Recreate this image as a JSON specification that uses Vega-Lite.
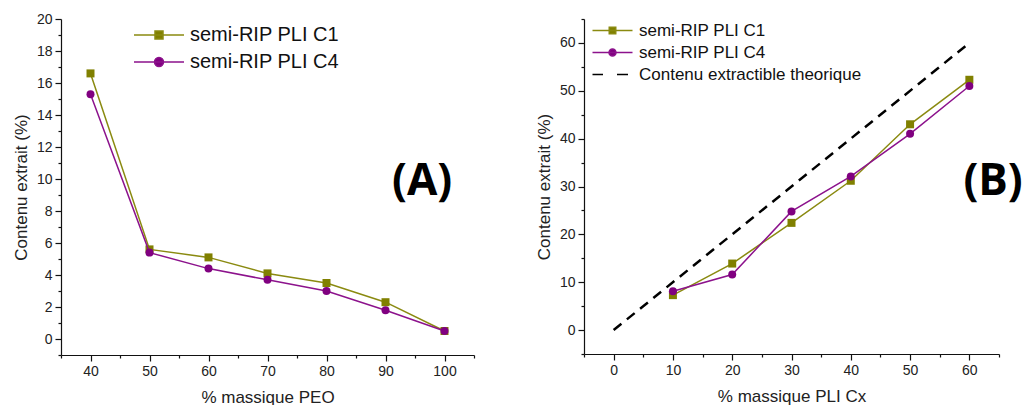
{
  "$schema": "https://vega.github.io/schema/vega-lite/v6.json",
  "padding": {"left": 12, "top": 12, "right": 0, "bottom": 0},
  "bounds": "flush",
  "spacing": 110,
  "resolve": {"scale": {"fill": "independent", "stroke": "independent", "shape": "independent"}, "legend": {"fill": "independent", "stroke": "independent", "shape": "independent"}},
  "config": {
    "view": {"stroke": null},
    "axis": {
      "grid": false,
      "domainColor": "#111",
      "tickColor": "#111",
      "domainWidth": 1.2,
      "tickWidth": 1.2,
      "labelColor": "#222",
      "titleColor": "#222",
      "labelFont": "Liberation Sans",
      "titleFont": "Liberation Sans",
      "titleFontWeight": "normal",
      "labelFontSize": 14,
      "titleFontSize": 17,
      "labelOverlap": false,
      "labelFlush": false,
      "labelPadding": 3
    },
    "axisX": {"titlePadding": 11},
    "axisY": {"titlePadding": 6}
  },
  "datasets": {
    "peo": [
      {"x": 40, "y": 16.6, "series": "semi-RIP PLI C1"},
      {"x": 50, "y": 5.6, "series": "semi-RIP PLI C1"},
      {"x": 60, "y": 5.1, "series": "semi-RIP PLI C1"},
      {"x": 70, "y": 4.1, "series": "semi-RIP PLI C1"},
      {"x": 80, "y": 3.5, "series": "semi-RIP PLI C1"},
      {"x": 90, "y": 2.3, "series": "semi-RIP PLI C1"},
      {"x": 100, "y": 0.5, "series": "semi-RIP PLI C1"},
      {"x": 40, "y": 15.3, "series": "semi-RIP PLI C4"},
      {"x": 50, "y": 5.4, "series": "semi-RIP PLI C4"},
      {"x": 60, "y": 4.4, "series": "semi-RIP PLI C4"},
      {"x": 70, "y": 3.7, "series": "semi-RIP PLI C4"},
      {"x": 80, "y": 3.0, "series": "semi-RIP PLI C4"},
      {"x": 90, "y": 1.8, "series": "semi-RIP PLI C4"},
      {"x": 100, "y": 0.5, "series": "semi-RIP PLI C4"}
    ],
    "pli": [
      {"x": 0, "y": 0, "series": "Contenu extractible theorique"},
      {"x": 60, "y": 60, "series": "Contenu extractible theorique"},
      {"x": 10, "y": 7.3, "series": "semi-RIP PLI C1"},
      {"x": 20, "y": 13.9, "series": "semi-RIP PLI C1"},
      {"x": 30, "y": 22.4, "series": "semi-RIP PLI C1"},
      {"x": 40, "y": 31.2, "series": "semi-RIP PLI C1"},
      {"x": 50, "y": 43.0, "series": "semi-RIP PLI C1"},
      {"x": 60, "y": 52.3, "series": "semi-RIP PLI C1"},
      {"x": 10, "y": 8.1, "series": "semi-RIP PLI C4"},
      {"x": 20, "y": 11.6, "series": "semi-RIP PLI C4"},
      {"x": 30, "y": 24.8, "series": "semi-RIP PLI C4"},
      {"x": 40, "y": 32.1, "series": "semi-RIP PLI C4"},
      {"x": 50, "y": 41.0, "series": "semi-RIP PLI C4"},
      {"x": 60, "y": 51.0, "series": "semi-RIP PLI C4"}
    ],
    "labA": [{"panel": "(A)", "px": 96.2, "py": 9.8}],
    "labB": [{"panel": "(B)", "px": 64.0, "py": 31}]
  },
  "hconcat": [
    {
      "width": 413,
      "height": 336,
      "data": {"name": "peo"},
      "encoding": {
        "x": {
          "field": "x", "type": "quantitative",
          "scale": {"domain": [35, 105], "nice": false, "zero": false},
          "axis": {
            "title": "% massique PEO",
            "values": [35, 40, 45, 50, 55, 60, 65, 70, 75, 80, 85, 90, 95, 100, 105],
            "labelExpr": "datum.value % 10 === 0 ? datum.label : ''",
            "tickSize": {"condition": {"test": "datum.value % 10 === 0", "value": 6}, "value": 3}
          }
        },
        "y": {
          "field": "y", "type": "quantitative",
          "scale": {"domain": [-1, 20], "nice": false, "zero": false},
          "axis": {
            "title": "Contenu extrait (%)",
            "values": [-1, 0, 1, 2, 3, 4, 5, 6, 7, 8, 9, 10, 11, 12, 13, 14, 15, 16, 17, 18, 19, 20],
            "labelExpr": "datum.value % 2 === 0 ? datum.label : ''",
            "tickSize": {"condition": {"test": "datum.value % 2 === 0", "value": 6}, "value": 3}
          }
        }
      },
      "layer": [
        {
          "transform": [{"filter": "datum.series === 'semi-RIP PLI C1'"}],
          "mark": {"type": "line", "color": "#8a8a10", "strokeWidth": 1.5}
        },
        {
          "transform": [{"filter": "datum.series === 'semi-RIP PLI C1'"}],
          "mark": {"type": "point", "shape": "square", "filled": true, "size": 64, "opacity": 1, "color": "#808000"}
        },
        {
          "transform": [{"filter": "datum.series === 'semi-RIP PLI C4'"}],
          "mark": {"type": "line", "color": "#8c128c", "strokeWidth": 1.5}
        },
        {
          "transform": [{"filter": "datum.series === 'semi-RIP PLI C4'"}],
          "mark": {"type": "point", "shape": "circle", "filled": true, "size": 64, "opacity": 1, "color": "#800080"}
        },
        {
          "transform": [{"filter": "false"}],
          "mark": {"type": "point", "filled": true, "size": 100, "opacity": 1},
          "encoding": {
            "fill": {
              "field": "series", "type": "nominal",
              "scale": {"domain": ["semi-RIP PLI C1", "semi-RIP PLI C4"], "range": ["#808000", "#800080"]},
              "legend": {"orient": "none", "legendX": 88, "legendY": 6, "title": null, "padding": 0, "labelOffset": 21, "labelFontSize": 20, "labelFont": "Liberation Sans", "labelColor": "#111", "rowPadding": 7, "symbolStrokeWidth": 1.5, "symbolSize": 100}
            },
            "stroke": {
              "field": "series", "type": "nominal",
              "scale": {"domain": ["semi-RIP PLI C1", "semi-RIP PLI C4"], "range": ["#8a8a10", "#8c128c"]},
              "legend": {"orient": "none", "legendX": 88, "legendY": 6, "title": null, "padding": 0, "labelOffset": 21, "labelFontSize": 20, "labelFont": "Liberation Sans", "labelColor": "#111", "rowPadding": 7, "symbolStrokeWidth": 1.5, "symbolSize": 100}
            },
            "shape": {
              "field": "series", "type": "nominal",
              "scale": {"domain": ["semi-RIP PLI C1", "semi-RIP PLI C4"], "range": ["M-5,0H5M-0.8,-0.8H0.8V0.8H-0.8Z", "M-5,0H5M-0.9,0A0.9,0.9,0,1,1,0.9,0A0.9,0.9,0,1,1,-0.9,0Z"]},
              "legend": {"orient": "none", "legendX": 88, "legendY": 6, "title": null, "padding": 0, "labelOffset": 21, "labelFontSize": 20, "labelFont": "Liberation Sans", "labelColor": "#111", "rowPadding": 7, "symbolStrokeWidth": 1.5, "symbolSize": 100}
            }
          }
        },
        {
          "data": {"name": "labA"},
          "mark": {"type": "text", "font": "Open Sans", "fontWeight": "bold", "fontSize": 44, "align": "center", "baseline": "middle"},
          "encoding": {
            "x": {"field": "px", "type": "quantitative"},
            "y": {"field": "py", "type": "quantitative"},
            "text": {"field": "panel", "type": "nominal"},
            "color": {"value": "#000000"}
          }
        }
      ]
    },
    {
      "width": 415,
      "height": 335,
      "data": {"name": "pli"},
      "encoding": {
        "x": {
          "field": "x", "type": "quantitative",
          "scale": {"domain": [-5, 65], "nice": false, "zero": false},
          "axis": {
            "title": "% massique PLI Cx",
            "values": [-5, 0, 5, 10, 15, 20, 25, 30, 35, 40, 45, 50, 55, 60, 65],
            "labelExpr": "datum.value % 10 === 0 ? datum.label : ''",
            "tickSize": {"condition": {"test": "datum.value % 10 === 0", "value": 6}, "value": 3}
          }
        },
        "y": {
          "field": "y", "type": "quantitative",
          "scale": {"domain": [-5, 65], "nice": false, "zero": false},
          "axis": {
            "title": "Contenu extrait (%)",
            "values": [-5, 0, 5, 10, 15, 20, 25, 30, 35, 40, 45, 50, 55, 60, 65],
            "labelExpr": "datum.value % 10 === 0 ? datum.label : ''",
            "tickSize": {"condition": {"test": "datum.value % 10 === 0", "value": 6}, "value": 3}
          }
        }
      },
      "layer": [
        {
          "transform": [{"filter": "datum.series === 'Contenu extractible theorique'"}],
          "mark": {"type": "line", "color": "#000", "strokeWidth": 2.5, "strokeDash": [10, 7]}
        },
        {
          "transform": [{"filter": "datum.series === 'semi-RIP PLI C1'"}],
          "mark": {"type": "line", "color": "#8a8a10", "strokeWidth": 1.5}
        },
        {
          "transform": [{"filter": "datum.series === 'semi-RIP PLI C1'"}],
          "mark": {"type": "point", "shape": "square", "filled": true, "size": 64, "opacity": 1, "color": "#808000"}
        },
        {
          "transform": [{"filter": "datum.series === 'semi-RIP PLI C4'"}],
          "mark": {"type": "line", "color": "#8c128c", "strokeWidth": 1.5}
        },
        {
          "transform": [{"filter": "datum.series === 'semi-RIP PLI C4'"}],
          "mark": {"type": "point", "shape": "circle", "filled": true, "size": 64, "opacity": 1, "color": "#800080"}
        },
        {
          "transform": [{"filter": "false"}],
          "mark": {"type": "point", "filled": true, "size": 100, "opacity": 1},
          "encoding": {
            "fill": {
              "field": "series", "type": "nominal",
              "scale": {"domain": ["semi-RIP PLI C1", "semi-RIP PLI C4", "Contenu extractible theorique"], "range": ["#808000", "#800080", "#000000"]},
              "legend": {"orient": "none", "legendX": 20, "legendY": 3, "title": null, "padding": 0, "labelOffset": 18, "labelFontSize": 17, "labelFont": "Liberation Sans", "labelColor": "#111", "rowPadding": 4, "symbolStrokeWidth": 1.5, "symbolSize": 100, "labelLimit": 400, "encode": {"symbols": {"update": {"strokeWidth": {"signal": "datum.value === 'Contenu extractible theorique' ? 2.5 : 1.5"}}}}}
            },
            "stroke": {
              "field": "series", "type": "nominal",
              "scale": {"domain": ["semi-RIP PLI C1", "semi-RIP PLI C4", "Contenu extractible theorique"], "range": ["#8a8a10", "#8c128c", "#000000"]},
              "legend": {"orient": "none", "legendX": 20, "legendY": 3, "title": null, "padding": 0, "labelOffset": 18, "labelFontSize": 17, "labelFont": "Liberation Sans", "labelColor": "#111", "rowPadding": 4, "symbolStrokeWidth": 1.5, "symbolSize": 100, "labelLimit": 400, "encode": {"symbols": {"update": {"strokeWidth": {"signal": "datum.value === 'Contenu extractible theorique' ? 2.5 : 1.5"}}}}}
            },
            "shape": {
              "field": "series", "type": "nominal",
              "scale": {"domain": ["semi-RIP PLI C1", "semi-RIP PLI C4", "Contenu extractible theorique"], "range": ["M-4,0H4M-0.65,-0.65H0.65V0.65H-0.65Z", "M-4,0H4M-0.7,0A0.7,0.7,0,1,1,0.7,0A0.7,0.7,0,1,1,-0.7,0Z", "M-4,0H-1.9M0.9,0H3.1"]},
              "legend": {"orient": "none", "legendX": 20, "legendY": 3, "title": null, "padding": 0, "labelOffset": 18, "labelFontSize": 17, "labelFont": "Liberation Sans", "labelColor": "#111", "rowPadding": 4, "symbolStrokeWidth": 1.5, "symbolSize": 100, "labelLimit": 400, "encode": {"symbols": {"update": {"strokeWidth": {"signal": "datum.value === 'Contenu extractible theorique' ? 2.5 : 1.5"}}}}}
            }
          }
        },
        {
          "data": {"name": "labB"},
          "mark": {"type": "text", "font": "Open Sans", "fontWeight": "bold", "fontSize": 44, "align": "center", "baseline": "middle"},
          "encoding": {
            "x": {"field": "px", "type": "quantitative"},
            "y": {"field": "py", "type": "quantitative"},
            "text": {"field": "panel", "type": "nominal"},
            "color": {"value": "#000000"}
          }
        }
      ]
    }
  ]
}
